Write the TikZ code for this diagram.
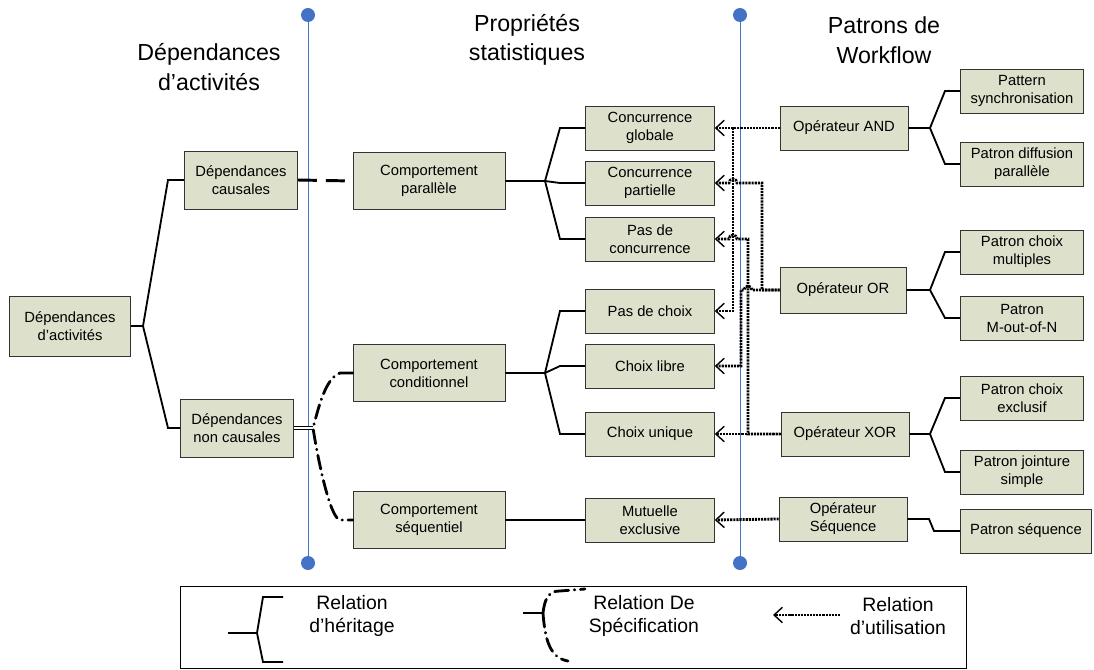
\documentclass[tikz,border=0pt]{standalone}
\usepackage{fontspec}
\setmainfont{Liberation Sans}
\usetikzlibrary{arrows.meta}
\definecolor{boitefond}{HTML}{DDE0CB}
\definecolor{axe}{HTML}{4472C4}
\tikzset{%
    boite/.style={draw=black!80, fill=boitefond, align=center, inner sep=1pt, font=\fontsize{10.5}{12.8}\selectfont},
    depend/.style={boite, minimum width=2.825cm, minimum height=1.45cm},
    comport/.style={boite, minimum width=3.8cm, minimum height=1.42cm},
    propri/.style={boite, minimum width=3.225cm, minimum height=1.1cm},
    patron/.style={boite, minimum width=3.075cm, minimum height=1.1cm},
    herit/.style={line width=1.3pt},
    usage/.style={line width=2pt, dash pattern=on 1.5pt off 0.7pt, -{Straight Barb[length=6pt,width=11pt,line width=1pt]}},
    specif/.style={line width=2pt, line cap=round, dash pattern=on 10pt off 4pt on 0.4pt off 4pt},
    pastille/.style={circle, fill=axe, minimum size=0.35cm, inner sep=0pt},
    titre/.style={align=center, font=\fontsize{16.5}{21}\selectfont},
    legende/.style={align=center, font=\fontsize{13.8}{16.4}\selectfont}
}

\begin{document}
\begin{tikzpicture}[x=0.025cm, y=-0.025cm]
        \useasboundingbox (0,0) rectangle (1094,670);

        \node[pastille] (axeAh) at (308,15) {};
        \node[pastille] (axeAb) at (308,563) {};
        \node[pastille] (axeBh) at (740,15) {};
        \node[pastille] (axeBb) at (740,563) {};
        \draw[axe] (axeAh) -- (axeAb);
        \draw[axe] (axeBh) -- (axeBb);

        \node[titre] (tdep) at (209,67) {Dépendances\\d’activités};
        \node[titre] (tprop) at (527,40) {Propriétés\\statistiques};
        \node[titre] (tpat) at (884,40) {Patrons de\\Workflow};

        \node[boite, minimum width=3.025cm, minimum height=1.5cm] (depact) at (70,326) {Dépendances\\d’activités};
        \node[depend] (depcaus) at (241,180) {Dépendances\\causales};
        \node[depend] (depnc) at (237,428) {Dépendances\\non causales};

        \node[comport] (cpar) at (429,181) {Comportement\\parallèle};
        \node[comport] (ccond) at (429,373) {Comportement\\conditionnel};
        \node[comport] (cseq) at (429,520) {Comportement\\séquentiel};

        \node[propri] (cglob) at (650,128) {Concurrence\\globale};
        \node[propri] (cpart) at (650,183) {Concurrence\\partielle};
        \node[propri] (pconc) at (650,239) {Pas de\\concurrence};
        \node[propri] (pchoix) at (650,311) {Pas de choix};
        \node[propri] (clibre) at (650,366) {Choix libre};
        \node[propri] (cuni) at (650,434) {Choix unique};
        \node[propri] (mutu) at (650,520) {Mutuelle\\exclusive};

        \node[propri, minimum width=3.2cm] (opand) at (844,128) {Opérateur AND};
        \node[propri, minimum width=3.15cm, minimum height=1.15cm] (opor) at (843,290) {Opérateur OR};
        \node[propri, minimum width=3.2cm] (opxor) at (845,434) {Opérateur XOR};
        \node[propri, minimum width=3.2cm] (opseq) at (843,519) {Opérateur\\Séquence};

        \node[patron] (psync) at (1022,91) {Pattern\\synchronisation};
        \node[patron] (pdiff) at (1022,164) {Patron diffusion\\parallèle};
        \node[patron] (pmult) at (1022,252) {Patron choix\\multiples};
        \node[patron] (pmn) at (1022,318) {Patron\\M-out-of-N};
        \node[patron] (pexcl) at (1022,398) {Patron choix\\exclusif};
        \node[patron] (pjoint) at (1022,472) {Patron jointure\\simple};
        \node[patron, minimum width=3.275cm] (pseq) at (1026,531) {Patron séquence};

        \draw[herit] (depact.east) -- (143,326) -- (168,180) -- (depcaus.west);
        \draw[herit] (143,326) -- (168,428) -- (depnc.west);

        \draw[herit] (cpar.east) -- (545,181) -- (560,128) -- (cglob.west);
        \draw[herit] (545,181) -- (560,183) -- (cpart.west);
        \draw[herit] (545,181) -- (560,239) -- (pconc.west);
        \draw[herit] (ccond.east) -- (545,373) -- (560,311) -- (pchoix.west);
        \draw[herit] (545,373) -- (560,366) -- (clibre.west);
        \draw[herit] (545,373) -- (560,434) -- (cuni.west);
        \draw[herit] (cseq.east) -- (mutu.west);

        \draw[herit] (opand.east) -- (930,128) -- (945,91) -- (psync.west);
        \draw[herit] (930,128) -- (945,164) -- (pdiff.west);
        \draw[herit] (opor.east) -- (930,290) -- (945,252) -- (pmult.west);
        \draw[herit] (930,290) -- (945,318) -- (pmn.west);
        \draw[herit] (opxor.east) -- (930,434) -- (945,398) -- (pexcl.west);
        \draw[herit] (930,434) -- (945,472) -- (pjoint.west);
        \draw[herit] (opseq.east) -- (929,519) -- (934,531) -- (pseq.west);

        \draw[line width=2.1pt, dash pattern=on 13.5pt off 6.4pt] (depcaus.east) -- (cpar.west);
        \draw[double, line width=0.6pt, double distance=1.4pt] (depnc.east) -- (313,428);
        \draw[specif] (ccond.west) -- (340,373) .. controls (325,378) and (318,410) .. (313,428) .. controls (318,460) and (330,518) .. (340,520) -- (cseq.west);

        \draw[usage] (opand.west) -- (cglob.east);
        \draw[usage] (opand.west) -- (733,128) |- (pchoix.east);
        \draw[usage] (opor.west) -- (762,290) -- (762,183) -- (737,183) arc[start angle=0, end angle=180, radius=0.1cm] -- (cpart.east);
        \draw[usage] (opor.west) -- (752,290) arc[start angle=0, end angle=180, radius=0.1cm] -- (741,290) |- (clibre.east);
        \draw[usage] (opxor.west) -- (cuni.east);
        \draw[usage] (opxor.west) -- (748,434) -- (748,239) -- (737,239) arc[start angle=0, end angle=180, radius=0.1cm] -- (pconc.east);
        \draw[usage] (opseq.west) -- (mutu.east);

        \node[draw, line width=0.6pt, minimum width=19.625cm, minimum height=2.05cm] (cadre) at (573.5,627) {};
        \draw[herit] (228,633) -- (257,633);
        \draw[herit] (283,597) -- (263,597) -- (257,633) -- (263,662) -- (283,662);
        \node[legende] (lherit) at (352,616) {Relation\\d’héritage};
        \draw[line width=2pt] (523,613) -- (543,613);
        \draw[specif] (543,613) .. controls (545,596) and (550,591) .. (560,591) -- (585,589);
        \draw[specif] (543,613) .. controls (545,640) and (550,658) .. (568,661);
        \node[legende] (lspec) at (644,616) {Relation De\\Spécification};
        \coordinate (udeb) at (840,615);
        \coordinate (ufin) at (773,615);
        \draw[usage, line width=1.4pt] (udeb) -- (ufin);
        \node[legende] (lusage) at (898,616) {Relation\\d’utilisation};
    \end{tikzpicture}
\end{document}
